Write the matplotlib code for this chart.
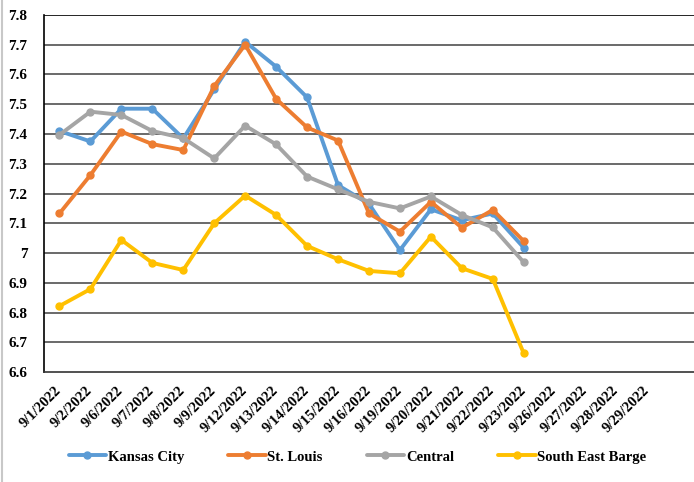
import numpy as np
import matplotlib
matplotlib.use("Agg")
import matplotlib.pyplot as plt

# dates on the category axis
dates = ["9/1/2022", "9/2/2022", "9/6/2022", "9/7/2022", "9/8/2022", "9/9/2022",
         "9/12/2022", "9/13/2022", "9/14/2022", "9/15/2022", "9/16/2022", "9/19/2022",
         "9/20/2022", "9/21/2022", "9/22/2022", "9/23/2022", "9/26/2022", "9/27/2022",
         "9/28/2022", "9/29/2022"]

kansas_city = [7.41, 7.375, 7.485, 7.485, 7.385, 7.55, 7.71, 7.626, 7.523, 7.228,
               7.165, 7.01, 7.147, 7.11, 7.133, 7.018]
st_louis = [7.133, 7.262, 7.408, 7.366, 7.346, 7.561, 7.70, 7.518, 7.422, 7.378,
            7.133, 7.072, 7.172, 7.085, 7.145, 7.04]
central = [7.397, 7.475, 7.464, 7.41, 7.386, 7.318, 7.428, 7.365, 7.257, 7.214,
           7.172, 7.15, 7.19, 7.128, 7.086, 6.969]
se_barge = [6.822, 6.879, 7.044, 6.967, 6.943, 7.10, 7.193, 7.128, 7.024, 6.979,
            6.94, 6.932, 7.055, 6.949, 6.913, 6.663]

series = [("Kansas City", kansas_city, "#5B9BD5"),
          ("St. Louis", st_louis, "#ED7D31"),
          ("Central", central, "#A5A5A5"),
          ("South East Barge", se_barge, "#FFC000")]

plt.rcParams['font.family'] = ['Liberation Serif', 'DejaVu Serif']
plt.rcParams['font.weight'] = 'bold'

fig = plt.figure(figsize=(6.94, 4.82), dpi=100)
ax = fig.add_axes([0.0634, 0.228, 0.9366, 0.741])

x = np.arange(len(dates))
for name, vals, col in series:
    ax.plot(x[:len(vals)], vals, color=col, lw=2.8, marker='o', markersize=5,
            label=name, solid_capstyle='round', solid_joinstyle='round')

ax.set_ylim(6.6, 7.8)
ax.set_xlim(-0.5, 20.5)
yt = np.round(np.arange(6.6, 7.81, 0.1), 1)
ax.set_yticks(yt)
ax.set_yticklabels([f"{v:g}" for v in yt], fontsize=11, fontweight='bold')
for v in yt[1:]:
    ax.axhline(v, color='black' if v == 7.8 else '#505050', lw=1.2, zorder=0)

ax.set_xticks(x)
ax.set_xticklabels(dates, rotation=45, ha='right', va='center',
                   rotation_mode='anchor', fontsize=10.5, fontweight='bold')
ax.tick_params(length=0)
ax.tick_params(axis='x', pad=12)
ax.tick_params(axis='y', pad=12)

for s in ['top', 'right']:
    ax.spines[s].set_visible(False)
ax.spines['left'].set_color('black')
ax.spines['bottom'].set_color('#333333')
ax.spines['left'].set_linewidth(1.2)
ax.spines['bottom'].set_linewidth(1.2)

# thin grey frame line at the left edge of the image
fig.add_artist(plt.Line2D([0.003, 0.003], [0, 1], color='#c8c8c8', lw=1.5,
                          transform=fig.transFigure))

leg = fig.legend(loc='center', bbox_to_anchor=(0.515, 0.052), ncol=4, frameon=False,
                 prop={'size': 10.5, 'weight': 'bold'}, handlelength=2.6,
                 columnspacing=3.0, handletextpad=0.1)

fig.savefig("out.png", dpi=100)
